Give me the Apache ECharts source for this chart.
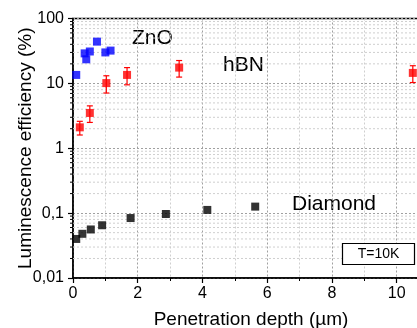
<!DOCTYPE html>
<html>
<head>
<meta charset="utf-8">
<title>Luminescence efficiency vs penetration depth</title>
<script src="https://cdn.jsdelivr.net/npm/echarts@6/dist/echarts.min.js"></script>
<style>
  html, body { margin: 0; padding: 0; background: #fff; }
  #chart { width: 417px; height: 328px; }
</style>
</head>
<body>
<div id="chart"></div>
<script>
// Measured luminescence efficiency (%) at 10 K against penetration depth (µm)
const znoDepth = [0.1, 0.36, 0.41, 0.52, 0.74, 1.0, 1.16];
const znoEff = [13.5, 29, 23.5, 31, 44, 30, 32];

const hbnDepth = [0.21, 0.52, 1.03, 1.67, 3.28, 10.5];
const hbnEff = [2.1, 3.5, 10.1, 13.5, 17.5, 14.5];
const hbnErr = [0.5, 1.0, 3.0, 4.0, 5.0, 4.2];

const diamondDepth = [0.1, 0.29, 0.55, 0.9, 1.78, 2.87, 4.15, 5.63];
const diamondEff = [0.040, 0.048, 0.056, 0.065, 0.084, 0.097, 0.112, 0.126];

// Decade labels use a decimal comma
const yTickLabels = { '0.01': '0,01', '0.1': '0,1', '1': '1', '10': '10', '100': '100' };
const xTickLabels = ['0', '2', '4', '6', '8', '10'];

// Intermediate log-scale positions (2..9 within each decade)
const yMinorValues = [];
[0.01, 0.1, 1, 10].forEach(function (d) {
  for (let k = 2; k <= 9; k++) yMinorValues.push(+(k * d).toPrecision(3));
});

const X_MIN = 0, X_MAX = 11;
const FONT = '"Liberation Sans", Arial, sans-serif';

const chart = echarts.init(document.getElementById('chart'), null, { renderer: 'canvas' });

function zip(xs, ys) { return xs.map(function (x, i) { return [x, ys[i]]; }); }

const option = {
  animation: false,
  backgroundColor: '#fff',
  grid: {
    left: 73, right: -12, top: 18.5, bottom: 50,
    containLabel: false, outerBoundsMode: 'none',
    show: true, borderColor: '#000', borderWidth: 1.5, backgroundColor: 'transparent'
  },
  xAxis: {
    type: 'value', min: X_MIN, max: X_MAX, interval: 2,
    name: 'Penetration depth (µm)', nameLocation: 'middle', nameGap: 32,
    nameMoveOverlap: false,
    nameTextStyle: { fontFamily: FONT, fontSize: 19, color: '#000' },
    axisLine: { show: true, lineStyle: { color: '#000', width: 1.5 } },
    axisTick: { show: true, length: 5, lineStyle: { color: '#000', width: 1.2 } },
    minorTick: { show: true, splitNumber: 2, length: 3, lineStyle: { color: '#000', width: 1 } },
    axisLabel: {
      fontFamily: FONT, fontSize: 16, color: '#000', margin: 8,
      formatter: function (v) {
        const s = String(v);
        return xTickLabels.indexOf(s) >= 0 ? s : '';
      }
    },
    splitLine: { show: true, lineStyle: { color: '#a0a0a0', type: [2, 2], width: 1 } },
    minorSplitLine: { show: true, lineStyle: { color: '#cfcfcf', type: [2, 2], width: 1 } }
  },
  yAxis: {
    type: 'log', logBase: 10, min: 0.01, max: 100,
    name: 'Luminescence efficiency (%)', nameLocation: 'middle', nameGap: 38,
    nameMoveOverlap: false,
    nameTextStyle: { fontFamily: FONT, fontSize: 19, color: '#000' },
    axisLine: { show: true, lineStyle: { color: '#000', width: 1.5 } },
    axisTick: { show: true, length: 5, lineStyle: { color: '#000', width: 1.2 } },
    axisLabel: {
      fontFamily: FONT, fontSize: 16, color: '#000', margin: 9,
      formatter: function (v) {
        const key = String(+v.toPrecision(3));
        return yTickLabels[key] !== undefined ? yTickLabels[key] : '';
      }
    },
    splitLine: { show: true, lineStyle: { color: '#a0a0a0', type: [2, 2], width: 1 } }
  },
  graphic: [
    { type: 'text', left: 132, top: 28, style: { text: 'ZnO', font: '21px ' + FONT, fill: '#000' } },
    { type: 'text', left: 223, top: 55, style: { text: 'hBN', font: '21px ' + FONT, fill: '#000' } },
    { type: 'text', left: 292, top: 194, style: { text: 'Diamond', font: '21px ' + FONT, fill: '#000' } },
    { type: 'rect', shape: { x: 342.5, y: 243.5, width: 72, height: 21 },
      style: { fill: '#fff', stroke: '#000', lineWidth: 1.2 }, z: 10 },
    { type: 'text', x: 378.5, y: 254.5, z: 11,
      style: { text: 'T=10K', font: '14px ' + FONT, fill: '#000', align: 'center', verticalAlign: 'middle' } }
  ],
  series: [
    {
      // minor log grid lines and ticks at 2..9 of each decade
      type: 'custom', silent: true, z: 1,
      data: yMinorValues.map(function (v) { return [X_MIN, v]; }),
      renderItem: function (params, api) {
        const v = api.value(1);
        const a = api.coord([X_MIN, v]);
        const b = api.coord([X_MAX, v]);
        return {
          type: 'group',
          children: [
            { type: 'line', shape: { x1: a[0], y1: a[1], x2: b[0], y2: b[1] },
              style: { stroke: '#cfcfcf', lineWidth: 1, lineDash: [2, 2] } },
            { type: 'line', shape: { x1: a[0] - 3, y1: a[1], x2: a[0], y2: a[1] },
              style: { stroke: '#000', lineWidth: 1 } }
          ]
        };
      }
    },
    {
      // hBN error bars
      type: 'custom', silent: true, z: 3,
      data: hbnDepth.map(function (x, i) { return [x, hbnEff[i], hbnErr[i]]; }),
      renderItem: function (params, api) {
        const x = api.value(0), y = api.value(1), e = api.value(2);
        const top = api.coord([x, y + e]);
        const bot = api.coord([x, y - e]);
        const hw = 3;
        const st = { stroke: '#ff0000', lineWidth: 1.2 };
        return {
          type: 'group',
          children: [
            { type: 'line', shape: { x1: top[0], y1: top[1], x2: bot[0], y2: bot[1] }, style: st },
            { type: 'line', shape: { x1: top[0] - hw, y1: top[1], x2: top[0] + hw, y2: top[1] }, style: st },
            { type: 'line', shape: { x1: bot[0] - hw, y1: bot[1], x2: bot[0] + hw, y2: bot[1] }, style: st }
          ]
        };
      }
    },
    {
      name: 'ZnO', type: 'scatter', symbol: 'rect', symbolSize: 8, z: 5,
      itemStyle: { color: '#0000ff' },
      data: zip(znoDepth, znoEff)
    },
    {
      name: 'hBN', type: 'scatter', symbol: 'rect', symbolSize: 8, z: 5,
      itemStyle: { color: '#ff0000' },
      data: zip(hbnDepth, hbnEff)
    },
    {
      name: 'Diamond', type: 'scatter', symbol: 'rect', symbolSize: 8, z: 5,
      itemStyle: { color: '#000000' },
      data: zip(diamondDepth, diamondEff)
    }
  ]
};

chart.setOption(option);
</script>
</body>
</html>
